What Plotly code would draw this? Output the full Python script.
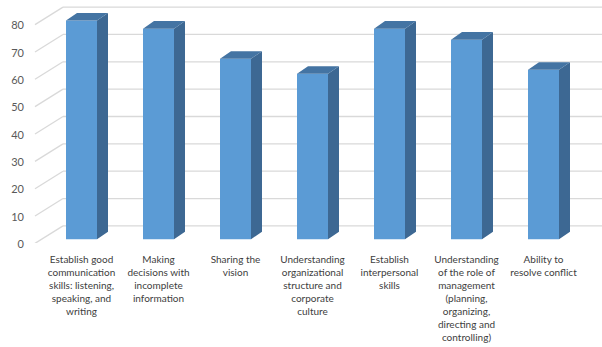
import plotly.graph_objects as go

categories = [
    "Establish good<br>communication<br>skills: listening,<br>speaking, and<br>writing",
    "Making<br>decisions with<br>incomplete<br>information",
    "Sharing the<br>vision",
    "Understanding<br>organizational<br>structure and<br>corporate<br>culture",
    "Establish<br>interpersonal<br>skills",
    "Understanding<br>of the role of<br>management<br>(planning,<br>organizing,<br>directing and<br>controlling)",
    "Ability to<br>resolve conflict",
]
values = [80, 77, 66, 60.5, 77, 73, 62]
y_ticks = [0, 10, 20, 30, 40, 50, 60, 70, 80]

# geometry (styling) of the pseudo-3D look
W, H = 602, 347
ML, MB = 30, 104
PX_PER_CAT = 77.0
FIRST_CENTER_PX = 81.5
BAR_W = 31 / PX_PER_CAT
DX = 11 / PX_PER_CAT
PX_PER_UNIT = 2.735
DY = 7.6 / PX_PER_UNIT
BACK_OFF = 4.9
FRONT_OFF = -1.5

x_min = -(FIRST_CENTER_PX - ML) / PX_PER_CAT
x_max = x_min + (W - ML) / PX_PER_CAT
plot_h = H - MB
y_max = 239.3 / PX_PER_UNIT
y_min = (239.3 - plot_h) / PX_PER_UNIT

front_x = (35 - FIRST_CENTER_PX) / PX_PER_CAT
back_x = (63 - FIRST_CENTER_PX) / PX_PER_CAT

FRONT = "#5B9BD5"
SIDE = "#3D6893"
TOP = "#4474A3"
GRID = "#D9D9D9"

xs = list(range(len(values)))

fig = go.Figure()
fig.add_trace(go.Bar(x=xs, y=values, width=BAR_W, marker=dict(color=FRONT, line=dict(width=0)),
                     hoverinfo="skip", showlegend=False))

side_x, side_y, top_x, top_y = [], [], [], []
for x, v in zip(xs, values):
    xl, xr = x - BAR_W / 2, x + BAR_W / 2
    side_x += [xr, xr + DX, xr + DX, xr, xr, None]
    side_y += [0, DY, v + DY, v, 0, None]
    top_x += [xl, xr, xr + DX, xl + DX, xl, None]
    top_y += [v, v, v + DY, v + DY, v, None]

fig.add_trace(go.Scatter(x=side_x, y=side_y, mode="lines", fill="toself", fillcolor=SIDE,
                         line=dict(width=0, color=SIDE), hoverinfo="skip", showlegend=False))
fig.add_trace(go.Scatter(x=top_x, y=top_y, mode="lines", fill="toself", fillcolor=TOP,
                         line=dict(width=0, color=TOP), hoverinfo="skip", showlegend=False))

shapes = []
for t in y_ticks:
    shapes.append(dict(type="line", xref="x", yref="y", x0=back_x, x1=x_max, y0=t + BACK_OFF, y1=t + BACK_OFF,
                       line=dict(color=GRID, width=1.3), layer="below"))
    shapes.append(dict(type="line", xref="x", yref="y", x0=front_x, x1=back_x, y0=t + FRONT_OFF, y1=t + BACK_OFF,
                       line=dict(color=GRID, width=1.3), layer="below"))

fig.update_layout(
    width=W, height=H,
    margin=dict(l=ML, r=0, t=0, b=MB, autoexpand=False),
    paper_bgcolor="white", plot_bgcolor="white",
    shapes=shapes,
    font=dict(family="Lato, Open Sans, sans-serif", color="#595959", size=10),
    xaxis=dict(range=[x_min, x_max], tickvals=xs, ticktext=categories, showgrid=False, zeroline=False,
               showline=False, ticks="", automargin=False, ticklabelstandoff=9,
               tickfont=dict(size=10, color="#404040")),
    yaxis=dict(range=[y_min, y_max], tickvals=y_ticks, showgrid=False, zeroline=False, showline=False,
               ticks="", automargin=False, ticklabelshift=5, ticklabelstandoff=5,
               tickfont=dict(size=11, color="#595959")),
)

fig.write_html("out.html", config={"displayModeBar": False},
               post_script="document.body.style.margin='0px';")
